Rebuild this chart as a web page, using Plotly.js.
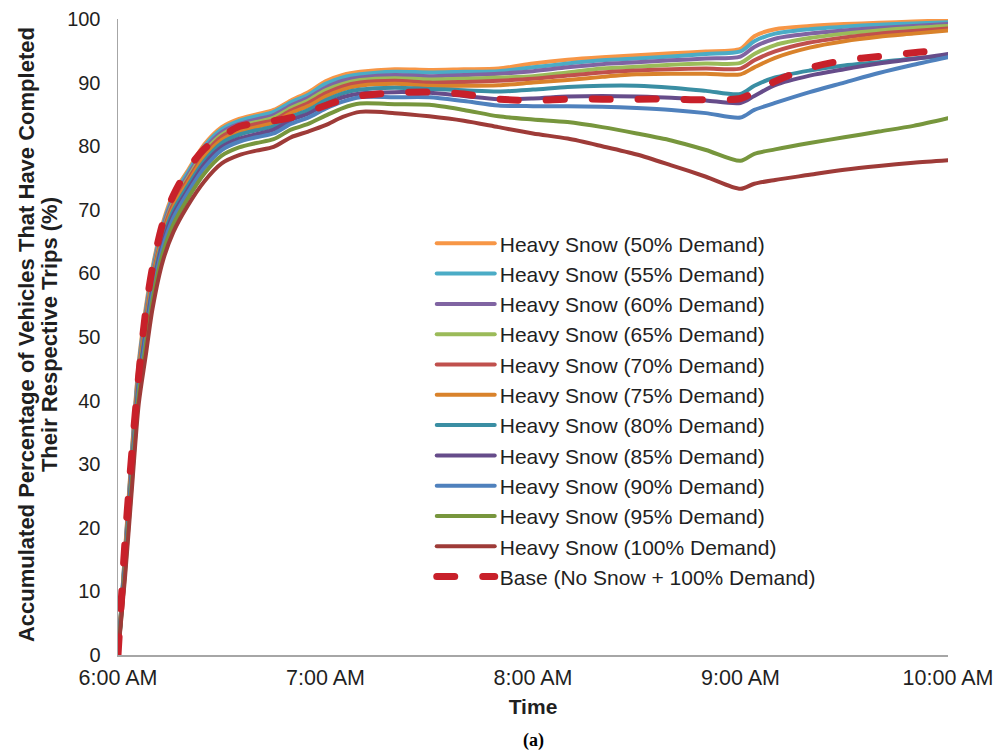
<!DOCTYPE html>
<html>
<head>
<meta charset="utf-8">
<script src="https://cdn.plot.ly/plotly-3.0.1.min.js"></script>
<style>
  html, body { margin: 0; padding: 0; background: #ffffff; }
  #chart { width: 997px; height: 753px; }
  /* rounded ends for the dashed base-case line */
  .scatterlayer .js-line, .legendlines path { stroke-linecap: round; stroke-linejoin: round; }
</style>
</head>
<body>
<div id="chart"></div>
<script>
// Minutes after 6:00 AM
const minutes = [0, 2, 4, 6, 8, 10, 13, 16, 20, 25, 30, 35, 40, 45, 50, 55, 60, 65, 70, 80, 90,
  100, 110, 120, 130, 140, 150, 160, 170, 180, 184, 190, 200, 210, 220, 230, 240];

const tickMinutes = [0, 60, 120, 180, 240];
const tickLabels = ['6:00 AM', '7:00 AM', '8:00 AM', '9:00 AM', '10:00 AM'];
const percentTicks = [0, 10, 20, 30, 40, 50, 60, 70, 80, 90, 100];

const seriesNames = [
  'Heavy Snow (50% Demand)', 'Heavy Snow (55% Demand)', 'Heavy Snow (60% Demand)',
  'Heavy Snow (65% Demand)', 'Heavy Snow (70% Demand)', 'Heavy Snow (75% Demand)',
  'Heavy Snow (80% Demand)', 'Heavy Snow (85% Demand)', 'Heavy Snow (90% Demand)',
  'Heavy Snow (95% Demand)', 'Heavy Snow (100% Demand)'
];
const baseName = 'Base (No Snow + 100% Demand)';

const yTitleLines = ['Accumulated Percentage of Vehicles That Have Completed', 'Their Respective Trips (%)'];
const xTitle = 'Time';
const panelLabel = '(a)';

// Accumulated % of vehicles that completed their trips
const snow50 = [0, 16, 32, 46, 54.5, 61, 68, 72.5, 76, 80.3, 83.0, 84.3, 85.0, 85.7, 87.2, 88.5, 90.2, 91.2, 91.7, 92.1, 92.0,
  92.1, 92.2, 93.0, 93.6, 94.0, 94.3, 94.6, 94.9, 95.3, 97.3, 98.4, 98.9, 99.2, 99.4, 99.6, 99.8];
const snow55 = [0, 15.8, 31.6, 45.6, 54.0, 60.6, 67.6, 72.1, 75.7, 80.0, 82.7, 84.0, 84.7, 85.4, 86.9, 88.1, 89.8, 90.8, 91.3, 91.7, 91.6,
  91.7, 91.8, 92.4, 93.0, 93.5, 93.8, 94.1, 94.5, 94.9, 96.5, 97.7, 98.4, 98.8, 99.1, 99.3, 99.5];
const snow60 = [0, 15.4, 31.2, 45.1, 53.5, 60.1, 67.2, 71.7, 75.2, 79.5, 82.2, 83.5, 84.2, 84.9, 86.4, 87.6, 89.2, 90.3, 90.8, 91.2, 91.0,
  91.2, 91.4, 91.8, 92.4, 92.9, 93.2, 93.5, 93.8, 94.1, 95.6, 96.9, 97.7, 98.2, 98.6, 98.9, 99.2];
const snow65 = [0, 15.2, 30.7, 44.6, 52.9, 59.6, 66.7, 71.2, 74.8, 79.1, 81.8, 83.1, 83.8, 84.5, 86.0, 87.2, 88.8, 89.8, 90.4, 90.7, 90.5,
  90.6, 90.8, 91.0, 91.6, 92.2, 92.5, 92.8, 93.0, 93.1, 94.5, 95.9, 97.0, 97.7, 98.2, 98.6, 98.9];
const snow70 = [0, 14.9, 30.4, 44.2, 52.5, 59.2, 66.4, 70.9, 74.5, 78.7, 81.5, 82.8, 83.5, 84.1, 85.6, 86.8, 88.3, 89.4, 90.0, 90.3, 90.0,
  90.1, 90.3, 90.6, 91.1, 91.6, 91.9, 92.1, 92.2, 92.2, 93.5, 94.9, 96.3, 97.1, 97.7, 98.1, 98.5];
const snow75 = [0, 14.6, 29.9, 43.7, 51.9, 58.7, 65.9, 70.4, 74.1, 78.3, 81.0, 82.3, 83.0, 83.7, 85.2, 86.3, 87.8, 88.9, 89.5, 89.8, 89.5,
  89.5, 89.6, 90.0, 90.4, 90.9, 91.3, 91.4, 91.4, 91.3, 92.4, 93.9, 95.5, 96.5, 97.2, 97.7, 98.2];
const snow80 = [0, 14.2, 29.4, 43.1, 51.2, 58.1, 65.4, 69.9, 73.6, 77.7, 80.5, 81.8, 82.5, 83.1, 84.6, 85.7, 87.2, 88.3, 88.9, 89.2, 89.0,
  88.8, 88.6, 88.9, 89.3, 89.5, 89.5, 89.2, 88.7, 88.2, 89.5, 90.8, 91.9, 92.7, 93.2, 93.8, 94.2];
const snow85 = [0, 13.8, 28.8, 42.5, 50.5, 57.5, 64.8, 69.3, 73.0, 77.2, 79.9, 81.2, 81.9, 82.6, 84.1, 85.1, 86.6, 87.7, 88.3, 88.5, 88.4,
  87.9, 87.4, 87.5, 87.8, 87.9, 87.8, 87.6, 87.2, 86.8, 87.9, 89.6, 91.1, 92.1, 93.0, 93.7, 94.5];
const snow90 = [0, 13.4, 28.2, 41.8, 49.7, 56.8, 64.2, 68.7, 72.5, 76.6, 79.4, 80.7, 81.4, 82.0, 83.5, 84.5, 85.9, 87.0, 87.7, 87.7, 87.7,
  87.1, 86.4, 86.3, 86.3, 86.2, 86.0, 85.7, 85.2, 84.5, 85.7, 86.8, 88.5, 90.0, 91.5, 92.8, 94.0];
const snow95 = [0, 12.8, 27.2, 40.8, 48.5, 55.8, 63.2, 67.7, 71.6, 75.7, 78.5, 79.8, 80.5, 81.1, 82.6, 83.5, 84.8, 86.0, 86.7, 86.6, 86.5,
  85.7, 84.7, 84.2, 83.8, 83.0, 82.0, 80.9, 79.4, 77.7, 78.8, 79.5, 80.5, 81.4, 82.3, 83.2, 84.4];
const snow100 = [0, 12, 26, 39.5, 47, 54.5, 62, 66.5, 70.5, 74.5, 77.3, 78.6, 79.3, 79.9, 81.4, 82.3, 83.3, 84.6, 85.4, 85.2, 84.7,
  84.0, 83.0, 82.0, 81.2, 80.0, 78.7, 77.0, 75.2, 73.3, 74.1, 74.7, 75.5, 76.3, 76.9, 77.4, 77.8];
const baseCase = [0, 17.6, 31.8, 44, 54, 61, 68, 72.3, 76.2, 79.6, 81.5, 83.1, 83.6, 84.0, 84.5, 85.4, 86.4, 87.3, 87.9, 88.4, 88.5,
  88.2, 87.4, 87.2, 87.4, 87.4, 87.4, 87.4, 87.3, 87.5, 88.5, 90.2, 92.3, 93.5, 94.1, 94.7, 95.1];

const snowSeries = [snow50, snow55, snow60, snow65, snow70, snow75, snow80, snow85, snow90, snow95, snow100];
const snowColors = ['#F79646', '#4BACC6', '#8064A2', '#9BBB59', '#C0504D', '#D9822B',
  '#3A8EA3', '#664C8A', '#4F81BD', '#77963D', '#9E3B38'];
const baseColor = '#C8202A';

const font = 'Liberation Sans, Arial, Helvetica, sans-serif';
const textColor = '#1f1f1f';

const traces = snowSeries.map((vals, i) => ({
  x: minutes,
  y: vals,
  name: seriesNames[i],
  type: 'scatter',
  mode: 'lines',
  line: { color: snowColors[i], width: 4, shape: 'spline', smoothing: 0.8 },
  hoverinfo: 'skip'
}));
traces.push({
  x: minutes,
  y: baseCase,
  name: baseName,
  type: 'scatter',
  mode: 'lines',
  line: { color: baseColor, width: 7, dash: '18px,28px', shape: 'spline', smoothing: 0.8 },
  hoverinfo: 'skip'
});

const titleFont = { family: font, size: 22, weight: 'bold', color: textColor };

const layout = {
  width: 997,
  height: 753,
  margin: { l: 118, r: 49, t: 19, b: 98 },
  paper_bgcolor: '#ffffff',
  plot_bgcolor: '#ffffff',
  font: { family: font, color: textColor },
  showlegend: true,
  legend: {
    x: 0.378, y: 0.679, xanchor: 'left', yanchor: 'top',
    bgcolor: 'rgba(0,0,0,0)',
    font: { family: font, size: 21, color: textColor },
    itemwidth: 58,
    traceorder: 'normal'
  },
  xaxis: {
    range: [0, 240],
    tickmode: 'array',
    tickvals: tickMinutes,
    ticktext: tickLabels,
    showgrid: false,
    zeroline: false,
    showline: true,
    linecolor: '#A6A6A6',
    linewidth: 1.5,
    ticks: '',
    ticklabelstandoff: 3,
    tickfont: { family: font, size: 21.5, color: textColor },
    title: { text: xTitle, font: { family: font, size: 21, weight: 'bold', color: textColor }, standoff: 10 },
    fixedrange: true
  },
  yaxis: {
    range: [0, 100],
    tickmode: 'array',
    tickvals: percentTicks,
    showgrid: false,
    zeroline: false,
    showline: true,
    linecolor: '#A6A6A6',
    linewidth: 1.5,
    ticks: '',
    ticklabelstandoff: 12,
    tickfont: { family: font, size: 20, color: textColor },
    fixedrange: true
  },
  annotations: [
    {
      text: yTitleLines[0],
      xref: 'paper', yref: 'paper',
      x: (26 - 118) / 830, y: 0.503,
      xanchor: 'center', yanchor: 'middle',
      textangle: -90, showarrow: false,
      font: titleFont
    },
    {
      text: yTitleLines[1],
      xref: 'paper', yref: 'paper',
      x: (49 - 118) / 830, y: 0.503,
      xanchor: 'center', yanchor: 'middle',
      textangle: -90, showarrow: false,
      font: titleFont
    },
    {
      text: panelLabel,
      xref: 'paper', yref: 'paper',
      x: 0.5, y: -0.134,
      xanchor: 'center', yanchor: 'middle',
      showarrow: false,
      font: { family: 'Liberation Serif, Times New Roman, serif', size: 18, weight: 'bold', color: '#000000' }
    }
  ]
};

Plotly.newPlot('chart', traces, layout, { staticPlot: true, displayModeBar: false });
</script>
</body>
</html>
